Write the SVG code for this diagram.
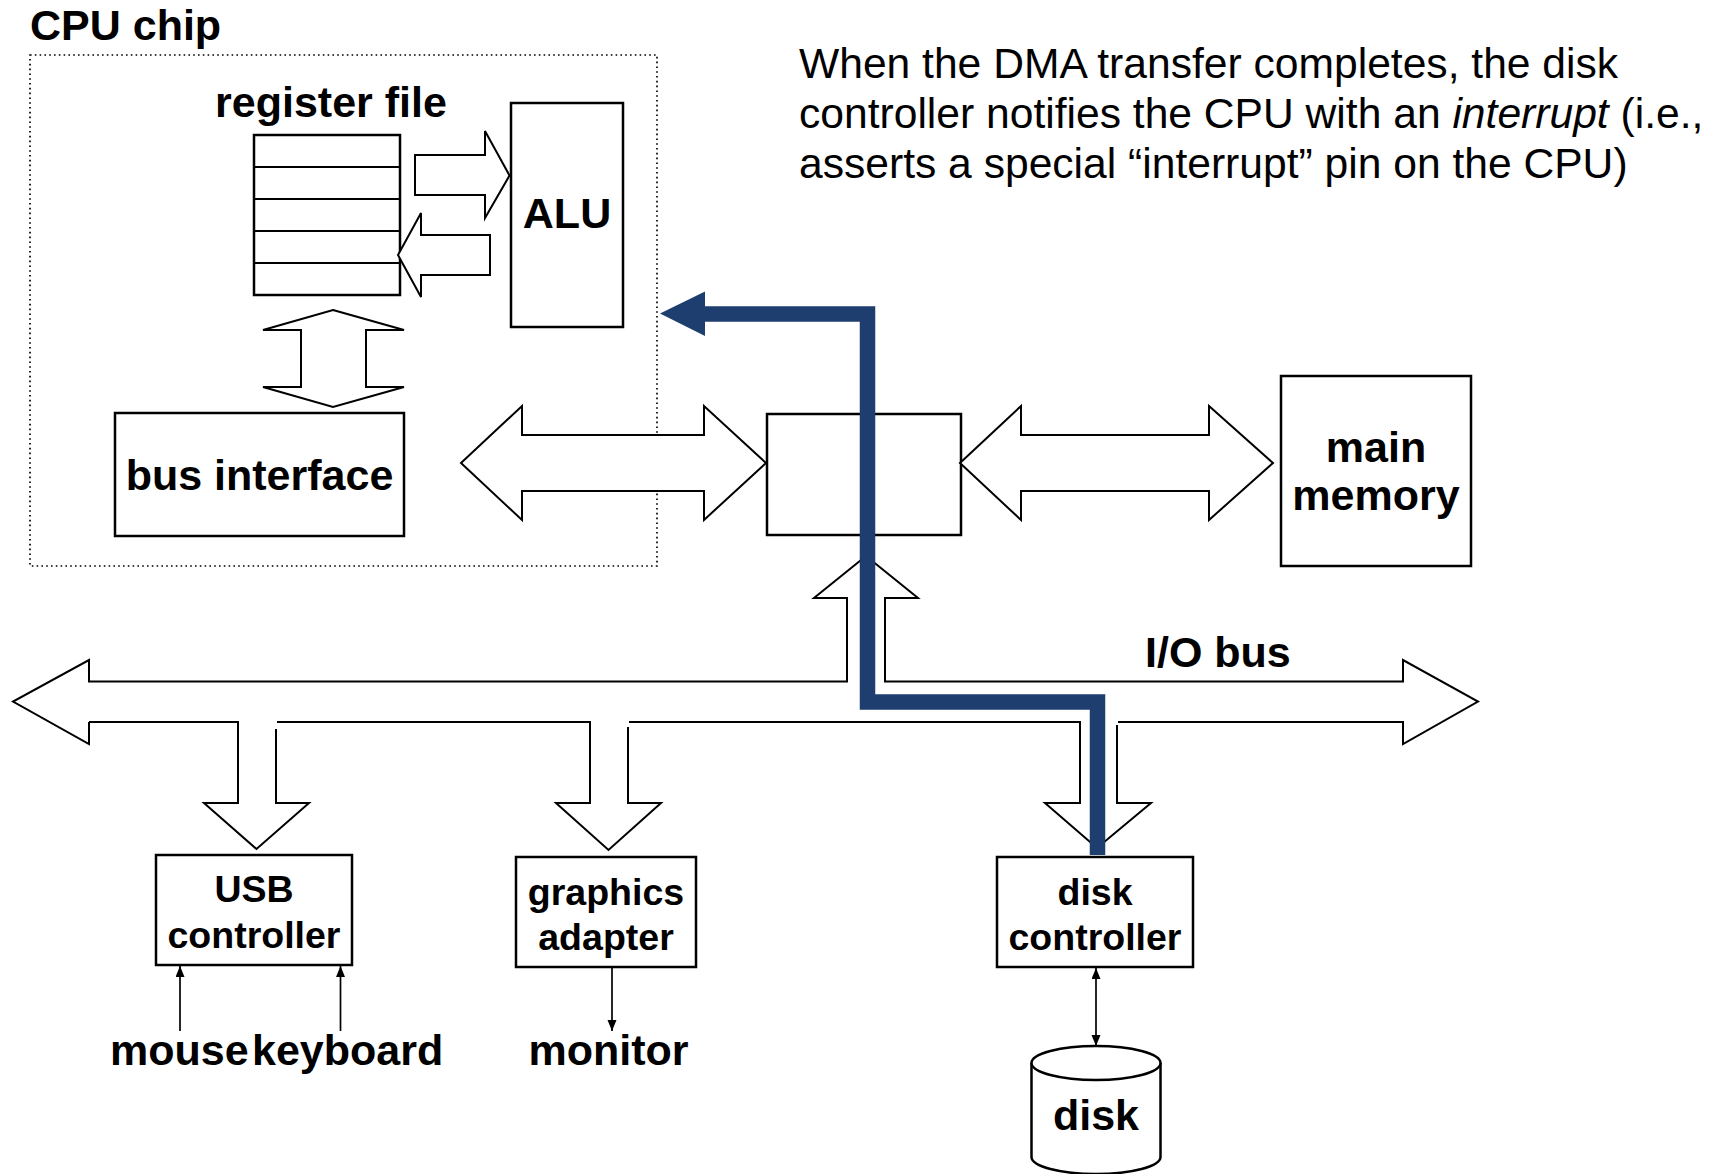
<svg xmlns="http://www.w3.org/2000/svg" width="1718" height="1174" viewBox="0 0 1718 1174">
<style>
text{font-family:"Liberation Sans",Arial,Helvetica,sans-serif;fill:#000}
.b{font-weight:bold;font-size:43px}
.s{font-weight:bold;font-size:37.5px}
.n{font-size:42.6px}
.box{fill:#fff;stroke:#000;stroke-width:2.5}
.ar{fill:#fff;stroke:#000;stroke-width:2;stroke-linejoin:miter}
.bus{fill:none;stroke:#000;stroke-width:2;stroke-linejoin:miter}
.ln{fill:none;stroke:#000;stroke-width:2}
.thin{fill:none;stroke:#000;stroke-width:1.7}
.blue{fill:none;stroke:#1f3e70;stroke-width:15.5;stroke-linejoin:miter}
</style>
<defs>
<marker id="ah" markerUnits="userSpaceOnUse" markerWidth="12" markerHeight="10" refX="11" refY="4.5" orient="auto-start-reverse">
<path d="M0,0 L11,4.5 L0,9 Z" fill="#000"/>
</marker>
</defs>
<rect width="1718" height="1174" fill="#fff"/>

<g id="cpu-chip">
<rect x="30" y="55" width="627" height="511" fill="none" stroke="#000" stroke-width="1.7" stroke-dasharray="1.6 3.2"/>
<text class="b" x="30" y="40">CPU chip</text>
</g>

<g id="register-file">
<text class="b" x="331" y="117" text-anchor="middle">register file</text>
<rect class="box" x="254" y="135" width="146" height="160"/>
<path class="ln" d="M254,167H400M254,199H400M254,231H400M254,263H400"/>
</g>

<g id="alu">
<rect class="box" x="511" y="103" width="112" height="224"/>
<text class="b" x="567" y="228" text-anchor="middle">ALU</text>
</g>

<g id="bus-interface">
<rect class="box" x="115" y="413" width="289" height="123"/>
<text class="b" x="259.5" y="490" text-anchor="middle">bus interface</text>
</g>

<g id="bridge">
<rect class="box" x="767" y="414" width="194" height="121"/>
</g>

<g id="main-memory">
<rect class="box" x="1281" y="376" width="190" height="190"/>
<text class="b" x="1376" y="462" text-anchor="middle">main</text>
<text class="b" x="1376" y="510" text-anchor="middle">memory</text>
</g>

<g id="usb-controller">
<rect class="box" x="156" y="855" width="196" height="110"/>
<text class="s" x="254" y="902" text-anchor="middle">USB</text>
<text class="s" x="254" y="948" text-anchor="middle">controller</text>
</g>

<g id="graphics-adapter">
<rect class="box" x="516" y="857" width="180" height="110"/>
<text class="s" x="606" y="905" text-anchor="middle">graphics</text>
<text class="s" x="606" y="950" text-anchor="middle">adapter</text>
</g>

<g id="disk-controller">
<rect class="box" x="997" y="857" width="196" height="110"/>
<text class="s" x="1095" y="905" text-anchor="middle">disk</text>
<text class="s" x="1095" y="950" text-anchor="middle">controller</text>
</g>

<g id="disk">
<path class="box" d="M1031.5,1063 V1157 A64.5,17 0 0 0 1160.5,1157 V1063"/>
<ellipse class="box" cx="1096" cy="1063" rx="64.5" ry="17"/>
<text class="b" x="1096" y="1130" text-anchor="middle">disk</text>
</g>

<g id="mouse"><text class="b" x="110" y="1065">mouse</text></g>
<g id="keyboard"><text class="b" x="252" y="1065">keyboard</text></g>
<g id="monitor"><text class="b" x="608.5" y="1065" text-anchor="middle">monitor</text></g>
<g id="io-bus-label"><text class="b" x="1145" y="667">I/O bus</text></g>

<g id="note">
<text class="n" x="799" y="78">When the DMA transfer completes, the disk</text>
<text class="n" x="799" y="128">controller notifies the CPU with an <tspan font-style="italic">interrupt</tspan> (i.e.,</text>
<text class="n" x="799" y="178">asserts a special “interrupt” pin on the CPU)</text>
</g>

<g id="connectors">
<polygon class="ar" points="415,155 485,155 485,131 509.5,175.5 485,218 485,195 415,195"/>
<polygon class="ar" points="490,235 421,235 421,213 398,255 421,297 421,275 490,275"/>
<polygon class="ar" points="333,310 404,330 366,330 366,387 404,387 333,407 263,387 301,387 301,330 263,330"/>
<polygon class="ar" points="461,463 522,406 522,435 704,435 704,406 766,463 704,520 704,491 522,491 522,520"/>
<polygon class="ar" points="960,463 1021,406 1021,435 1209,435 1209,406 1273,463 1209,520 1209,491 1021,491 1021,520"/>
<path class="bus" d="M89,722 H238 V803 H204 L256.5,849 L309,803 H276 V729 M277,722 H590 V803 H556 L608.5,850 L661,803 H628 V727 M629,722 H1080 V803 H1045 L1097,848 L1151,803 H1117 V725 M1118,722 H1403 V744 L1478,701.5 L1403,660 V681.5 H885 V598 H918 L866,556 L814,598 H847 V681.5 H89 V660 L13,701.5 L89,744 V722"/>
<polyline class="blue" points="705,314 867.5,314 867.5,702 1097.5,702 1097.5,855"/>
<polygon points="660,313.5 705,291.5 705,336" fill="#1f3e70"/>
<line class="thin" x1="180" y1="1031" x2="180" y2="966" marker-end="url(#ah)"/>
<line class="thin" x1="340.5" y1="1031" x2="340.5" y2="966" marker-end="url(#ah)"/>
<line class="thin" x1="612" y1="968" x2="612" y2="1031" marker-end="url(#ah)"/>
<line class="thin" x1="1096" y1="968" x2="1096" y2="1046" marker-start="url(#ah)" marker-end="url(#ah)"/>
</g>
</svg>
